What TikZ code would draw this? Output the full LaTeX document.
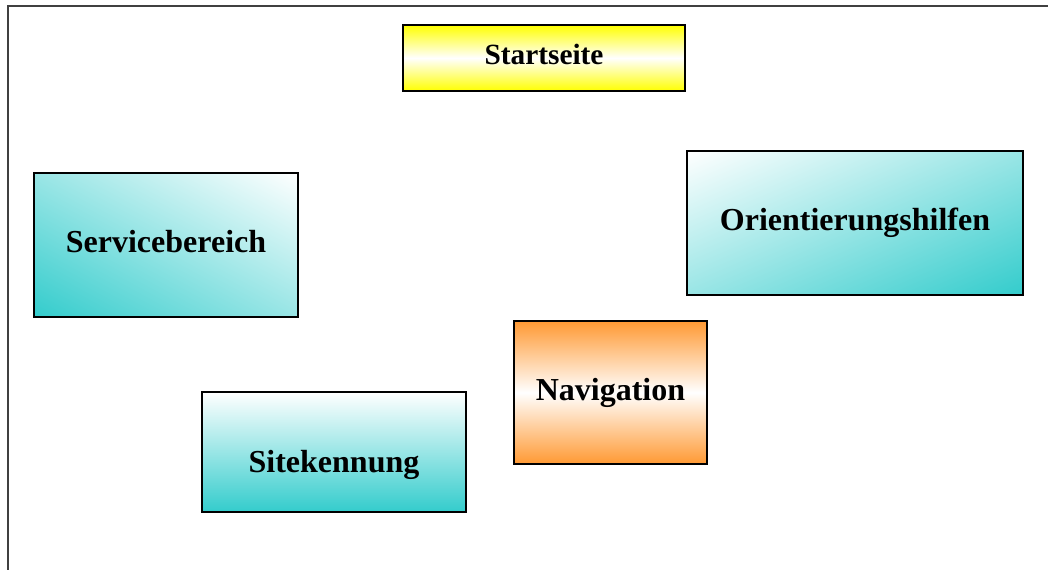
\documentclass[tikz,border=0pt]{standalone}
\usepackage{fontspec}
\setmainfont{Liberation Serif}
\usetikzlibrary{backgrounds}
% Corner-to-corner teal gradient behind a box node.
% #1 node name, #2 = +1 (white top right) or -1 (white top left), #3/#4 half width/height in pt
\newcommand\diagfill[4]{%
  \begin{scope}
    \clip (#1.south west) rectangle (#1.north east);
    \begin{scope}[transform canvas={cm={#3,#2*-#4,#2*#3,#4,(#1.center)}}]
      \shade[top color=white, bottom color=tealc] (-1pt,-1pt) rectangle (1pt,1pt);
    \end{scope}
  \end{scope}}
\begin{document}
\begin{tikzpicture}[x=0.75pt,y=-0.75pt,
  every node/.style={font=\bfseries\fontsize{24pt}{28pt}\selectfont, text=black},
  box/.style={rectangle, draw=black, line width=1.4pt, inner sep=0pt},
  frame/.style={draw=black!75, line width=1.5pt}]
  \definecolor{tealc}{RGB}{51,204,204}
  \definecolor{orangec}{RGB}{255,153,51}
  \definecolor{yellowc}{RGB}{255,255,0}
  \useasboundingbox (0,0) rectangle (1048,570);
  % open frame along the left and top edges
  \coordinate (fbl) at (8,572);
  \coordinate (ftl) at (8,6);
  \coordinate (ftr) at (1050,6);
  \draw[frame] (fbl) -- (ftl) -- (ftr);

  \node[box, minimum width=282*0.75pt, minimum height=66*0.75pt,
        top color=yellowc, bottom color=yellowc, middle color=white,
        label={[font=\bfseries\fontsize{22pt}{26pt}\selectfont, yshift=2.5pt]center:Startseite}]
    (start) at (544,58) {};

  \node[box, minimum width=264*0.75pt, minimum height=144*0.75pt,
        label={[yshift=2.5pt]center:Servicebereich}]
    (service) at (166,245) {};

  \node[box, minimum width=336*0.75pt, minimum height=144*0.75pt]
    (orient) at (855,223) {Orientierungshilfen};

  \node[box, minimum width=193*0.75pt, minimum height=143*0.75pt,
        top color=orangec, bottom color=orangec, middle color=white]
    (nav) at (610.5,392.5) {Navigation};

  \node[box, minimum width=264*0.75pt, minimum height=120*0.75pt,
        top color=white, bottom color=tealc,
        label={[yshift=-10pt]center:Sitekennung}]
    (site) at (334,452) {};

  \begin{pgfonlayer}{background}
    \diagfill{service}{1}{99}{54}
    \diagfill{orient}{-1}{126}{54}
  \end{pgfonlayer}
\end{tikzpicture}
\end{document}
